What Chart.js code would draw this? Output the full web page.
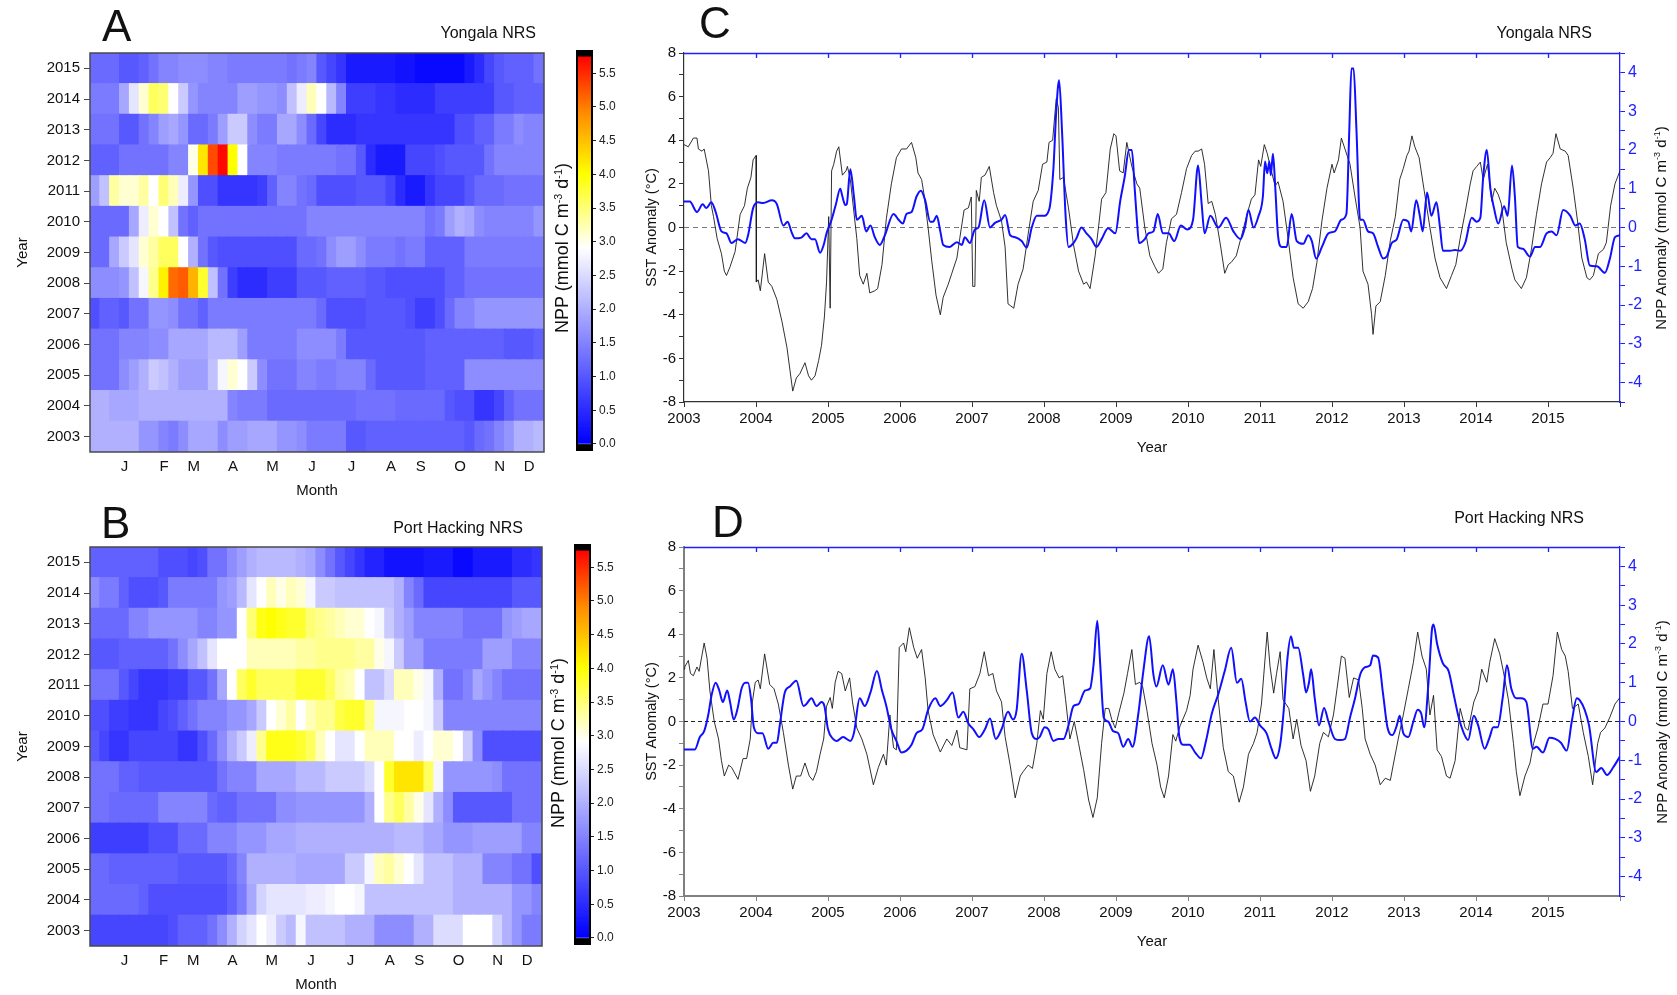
<!DOCTYPE html>
<html>
<head>
<meta charset="utf-8">
<script src="https://cdn.jsdelivr.net/npm/chart.js@4.4.0/dist/chart.umd.min.js"></script>
<style>
  body { margin: 0; background: #fff; width: 1677px; height: 995px; position: relative; overflow: hidden;
         font-family: "Liberation Sans", Arial, Helvetica, sans-serif; color: #111; }
  canvas { position: absolute; }
  .lbl { position: absolute; white-space: nowrap; line-height: 1; }
  .letter { font-size: 44px; }
  .site { font-size: 16px; }
  .rot { transform: translate(-50%, -50%) rotate(-90deg); }
  sup { font-size: 0.6em; vertical-align: 0.6em; line-height: 0; }
</style>
</head>
<body>
<canvas id="heatA" width="560" height="500" style="left:0;top:0"></canvas>
<canvas id="barA" width="70" height="500" style="left:560px;top:0"></canvas>
<canvas id="heatB" width="560" height="500" style="left:0;top:494px"></canvas>
<canvas id="barB" width="70" height="500" style="left:558px;top:494px"></canvas>
<canvas id="lineC" width="1047" height="470" style="left:630px;top:0"></canvas>
<canvas id="lineD" width="1047" height="470" style="left:630px;top:494px"></canvas>

<div class="lbl letter" style="left:102px;top:4px">A</div>
<div class="lbl letter" style="left:101px;top:501px">B</div>
<div class="lbl letter" style="left:699px;top:1px">C</div>
<div class="lbl letter" style="left:712px;top:500px">D</div>

<div class="lbl site" style="right:1141px;top:25px">Yongala NRS</div>
<div class="lbl site" style="right:1154px;top:520px">Port Hacking NRS</div>
<div class="lbl site" style="right:85px;top:25px">Yongala NRS</div>
<div class="lbl site" style="right:93px;top:510px">Port Hacking NRS</div>

<div class="lbl rot" style="left:562px;top:248px;font-size:18px">NPP (mmol C m<sup>-3</sup> d<sup>-1</sup>)</div>
<div class="lbl rot" style="left:558px;top:743px;font-size:18px">NPP (mmol C m<sup>-3</sup> d<sup>-1</sup>)</div>
<div class="lbl rot" style="left:1660px;top:228px;font-size:15px">NPP Anomaly (mmol C m<sup>-3</sup> d<sup>-1</sup>)</div>
<div class="lbl rot" style="left:1661px;top:722px;font-size:15px">NPP Anomaly (mmol C m<sup>-3</sup> d<sup>-1</sup>)</div>

<script>
// ---- heatmap axes ----
const years = [2003, 2004, 2005, 2006, 2007, 2008, 2009, 2010, 2011, 2012, 2013, 2014, 2015];
const columnCount = 46; // 8-day composites per year
const monthTickCols = [3, 7, 10, 14, 18, 22, 26, 30, 33, 37, 41, 44];
const monthLetters = ['J', 'F', 'M', 'A', 'M', 'J', 'J', 'A', 'S', 'O', 'N', 'D'];

// ---- NPP climatology (mmol C m-3 d-1), one row per year, 46 columns ----
const yongalaNpp = [
  /*2003*/ [2.0,2.0,2.0,2.0,2.0,1.7,1.7,1.5,1.4,1.6, 1.9,1.9,1.9,1.6,1.8,1.8,1.9,1.9,1.9,1.7, 1.7,1.6,1.4,1.4,1.4,1.4,1.0,1.0,1.1,1.1, 1.1,1.1,1.1,1.1,1.1,1.1,1.1,1.1,1.0,1.2, 1.3,1.5,1.7,2.0,2.0,2.1],
  /*2004*/ [2.0,2.0,1.9,1.9,1.9,2.0,2.0,2.0,2.0,2.0, 2.0,2.0,2.0,2.0,1.5,1.4,1.4,1.4,1.2,1.2, 1.2,1.2,1.2,1.2,1.2,1.2,1.2,1.3,1.3,1.3, 1.3,1.2,1.2,1.2,1.2,1.2,1.0,0.9,0.9,0.6, 0.6,0.8,1.1,1.3,1.3,1.3],
  /*2005*/ [1.3,1.3,1.3,1.6,1.8,2.0,2.3,2.2,2.0,1.8, 1.8,1.8,2.2,2.8,3.1,2.9,2.3,1.6,1.3,1.3, 1.3,1.5,1.5,1.4,1.4,1.5,1.5,1.5,1.2,1.0, 1.0,1.0,1.0,1.0,1.1,1.1,1.1,1.1,1.6,1.6, 1.6,1.6,1.6,1.6,1.6,1.6],
  /*2006*/ [1.3,1.3,1.3,1.5,1.5,1.5,1.6,1.6,1.9,1.9, 1.9,1.9,2.1,2.1,2.1,1.8,1.4,1.4,1.4,1.4, 1.4,1.6,1.6,1.6,1.6,1.4,1.0,1.0,1.0,1.0, 1.0,1.0,1.0,1.0,1.1,1.1,1.1,1.1,1.1,1.1, 1.1,1.1,1.0,1.0,1.0,1.1],
  /*2007*/ [0.9,1.1,1.1,1.0,1.3,1.3,1.7,1.7,1.6,1.3, 1.3,1.1,1.4,1.4,1.4,1.4,1.4,1.4,1.4,1.4, 1.4,1.4,1.4,1.2,0.9,0.9,0.9,0.9,1.0,1.0, 1.0,1.0,0.9,0.7,0.7,0.9,1.2,1.5,1.5,1.7, 1.7,1.7,1.7,1.7,1.7,1.7],
  /*2008*/ [1.6,1.6,1.6,1.7,2.2,2.8,3.4,4.1,5.1,5.2, 4.6,3.8,2.2,1.3,0.7,0.5,0.5,0.5,0.7,0.7, 0.7,1.0,1.0,1.0,1.1,1.1,1.1,1.1,1.0,1.0, 0.9,0.9,0.9,0.9,0.9,0.9,1.1,1.1,1.3,1.3, 1.3,1.3,1.3,1.3,1.3,1.3],
  /*2009*/ [1.2,1.2,1.9,2.3,2.6,3.1,3.3,3.6,3.6,2.9, 2.0,1.3,1.0,0.9,0.9,0.9,0.9,0.9,0.9,0.9, 0.9,1.2,1.2,1.3,1.6,1.8,1.8,1.6,1.4,1.4, 1.4,1.3,1.4,1.4,1.1,1.1,1.1,1.1,1.4,1.4, 1.4,1.4,1.4,1.4,1.4,1.4],
  /*2010*/ [1.2,1.2,1.2,1.2,1.9,2.7,3.1,2.9,2.2,1.3, 1.1,1.3,1.3,1.3,1.3,1.3,1.3,1.3,1.3,1.3, 1.3,1.3,1.5,1.5,1.5,1.5,1.5,1.5,1.5,1.5, 1.5,1.5,1.5,1.5,1.3,1.4,1.8,2.0,1.9,1.6, 1.5,1.5,1.5,1.5,1.5,1.7],
  /*2011*/ [1.8,2.2,3.3,3.1,3.1,3.3,2.9,3.5,3.2,2.7, 1.7,0.9,0.9,0.6,0.6,0.6,0.6,0.7,1.1,1.5, 1.5,1.3,1.2,0.9,0.9,0.9,0.9,1.0,1.0,1.0, 0.8,0.5,0.3,0.3,0.6,0.8,0.8,0.8,1.0,1.2, 1.2,1.2,1.3,1.3,1.3,1.3],
  /*2012*/ [1.1,1.1,1.1,1.3,1.3,1.3,1.3,1.3,1.5,1.5, 3.0,4.2,5.3,5.7,4.0,2.9,1.5,1.5,1.5,1.4, 1.4,1.4,1.4,1.4,1.4,1.3,1.3,1.0,0.5,0.3, 0.3,0.3,0.8,0.8,0.8,0.9,1.0,1.0,1.0,1.0, 1.3,1.5,1.5,1.5,1.5,1.5],
  /*2013*/ [1.3,1.3,1.3,1.0,1.0,1.3,1.5,1.8,1.9,1.7, 1.2,1.2,1.4,1.8,2.3,2.3,1.6,1.4,1.4,1.9, 1.9,1.6,1.2,0.8,0.5,0.5,0.5,0.6,0.6,0.6, 0.6,0.6,0.6,0.6,0.6,0.6,0.6,0.9,0.9,1.1, 1.1,1.4,1.4,1.6,1.5,1.5],
  /*2014*/ [1.4,1.4,1.4,1.9,2.6,3.1,3.6,3.5,2.9,2.3, 1.7,1.5,1.5,1.5,1.5,1.8,1.8,1.7,1.7,1.6, 2.2,2.7,3.2,2.9,2.1,1.5,0.7,0.7,0.7,0.6, 0.6,0.5,0.5,0.5,0.5,0.7,0.7,0.7,0.7,0.7, 0.7,1.0,1.0,1.1,1.1,1.1],
  /*2015*/ [1.2,1.2,1.2,1.0,1.0,1.1,1.3,1.5,1.5,1.6, 1.6,1.6,1.5,1.5,1.4,1.4,1.4,1.4,1.4,1.4, 1.3,1.4,1.5,1.0,0.8,0.6,0.3,0.3,0.3,0.3, 0.3,0.2,0.2,0.1,0.1,0.1,0.1,0.1,0.3,0.5, 0.8,1.0,1.1,1.1,1.1,1.3]
];
const portHackingNpp = [
  /*2003*/ [0.8,0.8,0.8,0.8,0.8,0.8,0.8,0.8,0.9,1.1, 1.1,1.1,1.3,1.6,2.0,2.4,2.6,2.9,2.7,2.3, 2.1,2.8,2.2,2.2,2.2,2.2,2.0,2.0,2.0,1.6, 1.6,1.6,1.6,2.0,2.0,2.5,2.5,2.5,2.9,2.9, 2.9,2.4,2.0,1.7,1.4,1.4],
  /*2004*/ [1.2,1.2,1.2,1.2,1.2,1.1,0.9,0.9,0.9,0.9, 0.9,0.9,0.9,0.9,1.1,1.4,1.9,2.4,2.6,2.6, 2.6,2.6,2.7,2.7,2.8,2.9,2.9,2.8,2.2,2.2, 2.2,2.2,2.2,2.2,2.2,2.2,2.2,2.0,2.0,2.0, 2.0,2.0,2.0,1.7,1.7,1.5],
  /*2005*/ [1.2,1.2,1.1,1.1,1.1,1.1,1.1,1.1,1.1,1.0, 1.0,1.0,1.0,1.0,1.2,1.5,2.0,2.0,2.0,2.0, 2.0,1.9,1.9,1.9,1.9,1.9,2.3,2.3,2.8,3.2, 3.3,3.1,2.9,2.6,2.2,2.2,2.2,2.0,2.0,2.0, 1.5,1.5,1.5,1.3,1.3,0.9],
  /*2006*/ [0.7,0.7,0.7,0.7,0.7,0.7,0.9,0.9,0.9,1.2, 1.2,1.2,1.5,1.5,1.5,1.7,1.7,1.7,1.9,1.9, 1.9,2.0,2.0,2.0,2.0,2.0,2.0,2.0,2.0,2.0, 2.0,2.1,2.1,2.1,1.9,1.9,1.7,1.7,1.7,1.8, 1.8,1.8,1.8,1.8,1.5,1.5],
  /*2007*/ [1.3,1.3,1.2,1.2,1.2,1.2,1.2,1.5,1.5,1.5, 1.5,1.5,1.2,1.1,1.1,1.3,1.3,1.3,1.3,1.6, 1.6,1.7,1.7,1.7,1.7,1.7,1.7,1.7,2.0,2.9, 3.4,3.6,3.3,3.0,2.6,2.0,1.6,1.0,1.0,1.0, 1.0,1.0,1.0,1.3,1.3,1.3],
  /*2008*/ [1.3,1.3,1.3,1.1,1.1,1.0,1.0,1.0,1.0,1.0, 1.0,1.0,1.0,1.3,1.5,1.5,1.5,1.9,1.9,1.9, 1.9,2.1,2.1,2.1,2.3,2.3,2.3,2.3,2.5,2.9, 3.8,4.2,4.2,4.2,3.6,2.8,1.7,1.7,1.7,1.7, 1.7,1.6,1.3,1.3,1.3,1.3],
  /*2009*/ [1.0,0.8,0.6,0.6,0.8,0.8,0.8,0.8,0.8,0.6, 0.6,0.9,1.2,1.6,2.0,2.3,2.7,3.4,3.9,3.9, 3.9,3.8,3.6,3.2,2.9,2.6,2.6,2.9,3.2,3.2, 3.2,2.9,2.9,2.7,2.9,3.1,3.1,2.9,2.3,1.6, 0.9,0.9,0.9,0.9,0.9,0.9],
  /*2010*/ [0.9,0.9,0.7,0.7,0.6,0.6,0.6,0.8,0.9,1.1, 1.3,1.5,1.5,1.5,1.7,1.7,1.9,2.3,2.9,3.1, 3.3,2.9,3.2,3.4,3.4,3.7,3.8,3.8,3.4,2.8, 2.8,2.8,2.9,2.9,2.8,2.3,1.5,1.5,1.5,1.5, 1.5,1.5,1.5,1.5,1.5,1.5],
  /*2011*/ [1.3,1.3,1.3,1.0,0.8,0.6,0.6,0.6,0.7,0.7, 1.0,1.0,1.3,1.9,2.9,3.6,3.8,3.6,3.6,3.6, 3.6,3.8,3.8,3.8,3.6,3.3,3.2,2.9,2.2,2.2, 2.5,3.2,3.2,3.0,2.8,2.0,1.3,1.3,1.5,1.9, 1.7,1.5,1.3,1.3,1.3,1.3],
  /*2012*/ [1.0,1.0,1.0,1.1,1.1,1.1,1.1,1.1,1.3,1.6, 1.9,2.2,2.6,2.9,2.9,2.9,3.2,3.2,3.2,3.2, 3.2,3.3,3.3,3.4,3.4,3.4,3.4,3.3,3.3,3.0, 2.8,2.3,1.8,1.8,1.4,1.4,1.4,1.4,1.4,1.4, 1.8,1.8,1.8,1.5,1.5,1.5],
  /*2013*/ [1.2,1.2,1.2,1.2,1.5,1.5,1.7,1.7,1.7,1.7, 1.7,1.5,1.5,1.7,1.7,2.9,3.5,3.9,4.0,3.9, 3.8,3.8,3.5,3.4,3.3,3.2,3.1,3.1,2.9,2.8, 2.3,2.0,1.8,1.5,1.5,1.5,1.5,1.5,1.3,1.3, 1.3,1.3,1.7,1.8,1.9,1.9],
  /*2014*/ [1.6,1.4,1.4,1.1,0.9,0.9,0.9,1.0,1.4,1.4, 1.4,1.4,1.4,1.7,1.8,2.1,2.6,2.9,3.2,3.0, 3.2,3.1,2.8,2.3,2.3,2.2,2.2,2.2,2.2,2.2, 2.2,2.0,1.5,1.2,0.8,0.8,0.8,0.8,0.8,0.8, 0.8,0.8,0.8,1.0,1.0,1.0],
  /*2015*/ [1.1,1.1,1.1,1.1,1.1,1.1,1.1,0.9,0.9,0.9, 0.8,0.9,1.3,1.3,1.6,1.8,2.0,2.1,2.1,2.1, 2.1,2.0,1.9,1.6,1.3,1.0,0.8,0.6,0.4,0.4, 0.2,0.2,0.2,0.2,0.3,0.3,0.3,0.1,0.1,0.3, 0.3,0.3,0.3,0.5,0.5,0.6]
];

// ---- anomaly time series: [decimal year, value] ----
const yongalaSst = [
  [2003.00,3.8],[2003.06,3.7],[2003.13,4.1],[2003.18,4.1],[2003.20,3.6],[2003.25,3.5],[2003.28,3.6],[2003.34,2.6],[2003.38,1.0],[2003.41,0.5],
  [2003.46,-0.5],[2003.52,-1.2],[2003.56,-2.0],[2003.59,-2.2],[2003.64,-1.8],[2003.71,-1.1],[2003.78,0.6],[2003.84,1.0],[2003.88,1.8],[2003.93,2.3],
  [2003.96,3.1],[2004.00,3.3],[2004.005,-2.5],[2004.03,-2.4],[2004.06,-2.9],[2004.12,-1.2],[2004.17,-2.5],[2004.22,-2.7],[2004.29,-3.3],[2004.36,-4.3],
  [2004.43,-5.5],[2004.51,-7.5],[2004.56,-6.9],[2004.61,-6.7],[2004.68,-6.2],[2004.73,-6.8],[2004.77,-7.0],[2004.82,-6.8],[2004.87,-6.1],[2004.91,-5.4],
  [2004.95,-4.1],[2004.98,-2.5],[2005.01,0.5],[2005.03,-3.7],[2005.05,2.6],[2005.08,2.9],[2005.12,3.5],[2005.15,3.7],[2005.20,2.4],[2005.25,2.6],
  [2005.27,2.8],[2005.31,2.2],[2005.35,1.0],[2005.40,-0.5],[2005.44,-2.2],[2005.49,-2.6],[2005.54,-2.1],[2005.58,-3.0],[2005.65,-2.9],[2005.69,-2.8],
  [2005.75,-1.7],[2005.81,0.4],[2005.88,2.0],[2005.95,3.2],[2006.02,3.6],[2006.09,3.6],[2006.16,3.9],[2006.22,3.2],[2006.25,2.5],[2006.30,2.2],
  [2006.33,1.6],[2006.39,0.0],[2006.44,-1.5],[2006.50,-3.1],[2006.56,-4.0],[2006.60,-3.2],[2006.67,-2.6],[2006.72,-2.1],[2006.79,-1.4],[2006.83,-0.5],
  [2006.89,0.8],[2006.95,0.9],[2006.99,1.4],[2007.01,-2.7],[2007.04,-2.7],[2007.06,1.7],[2007.10,1.2],[2007.13,2.3],[2007.18,2.4],[2007.24,2.8],
  [2007.30,1.6],[2007.34,1.0],[2007.41,0.3],[2007.46,-0.9],[2007.50,-3.5],[2007.54,-3.6],[2007.58,-3.7],[2007.64,-2.6],[2007.71,-1.9],[2007.78,-0.3],
  [2007.85,1.2],[2007.92,1.7],[2007.98,2.9],[2008.04,3.0],[2008.07,3.9],[2008.12,4.0],[2008.17,5.9],[2008.20,5.5],[2008.22,2.2],[2008.27,2.3],
  [2008.34,0.9],[2008.41,-0.8],[2008.48,-2.0],[2008.55,-2.6],[2008.59,-2.5],[2008.64,-2.8],[2008.71,-1.3],[2008.76,0.1],[2008.80,1.3],[2008.86,1.6],
  [2008.92,3.6],[2008.97,4.3],[2009.00,4.2],[2009.05,2.6],[2009.10,2.5],[2009.15,3.9],[2009.22,2.8],[2009.29,2.0],[2009.33,1.8],[2009.40,0.0],
  [2009.47,-1.3],[2009.54,-1.8],[2009.59,-2.1],[2009.65,-1.9],[2009.70,-0.7],[2009.77,0.4],[2009.84,0.6],[2009.91,1.6],[2009.98,2.7],[2010.05,3.3],
  [2010.10,3.5],[2010.14,3.5],[2010.19,3.6],[2010.23,2.9],[2010.28,1.1],[2010.33,1.2],[2010.38,0.6],[2010.45,-0.8],[2010.51,-2.1],[2010.56,-1.7],
  [2010.60,-1.6],[2010.67,-1.3],[2010.75,-0.3],[2010.82,0.6],[2010.88,1.3],[2010.93,1.5],[2010.98,3.1],[2011.01,2.8],[2011.06,3.8],[2011.10,3.4],
  [2011.15,2.7],[2011.21,1.9],[2011.25,2.1],[2011.32,1.2],[2011.39,-0.5],[2011.46,-2.3],[2011.53,-3.5],[2011.60,-3.7],[2011.67,-3.4],[2011.73,-2.8],
  [2011.79,-1.6],[2011.86,0.3],[2011.93,1.8],[2012.00,2.9],[2012.03,2.5],[2012.09,3.1],[2012.13,4.1],[2012.18,3.6],[2012.25,2.9],[2012.32,1.4],
  [2012.39,0.0],[2012.43,-2.0],[2012.50,-2.6],[2012.55,-4.0],[2012.57,-4.9],[2012.61,-3.6],[2012.67,-3.4],[2012.74,-2.2],[2012.81,-0.6],[2012.88,0.5],
  [2012.94,2.2],[2012.99,2.7],[2013.04,3.3],[2013.07,3.5],[2013.11,4.2],[2013.15,3.7],[2013.21,3.2],[2013.28,1.7],[2013.36,0.0],[2013.43,-1.4],
  [2013.50,-2.3],[2013.59,-2.8],[2013.66,-2.2],[2013.72,-1.7],[2013.78,-0.5],[2013.85,0.7],[2013.92,2.0],[2013.96,2.6],[2014.01,2.8],[2014.06,3.0],
  [2014.10,2.2],[2014.16,2.9],[2014.22,1.2],[2014.26,1.8],[2014.31,1.5],[2014.35,1.1],[2014.42,-0.7],[2014.50,-1.9],[2014.54,-2.4],[2014.63,-2.8],
  [2014.70,-2.3],[2014.77,-1.0],[2014.84,0.6],[2014.91,2.0],[2014.98,3.0],[2015.03,3.2],[2015.07,3.4],[2015.11,4.3],[2015.17,3.6],[2015.24,3.5],
  [2015.28,3.3],[2015.35,1.8],[2015.41,0.3],[2015.47,-1.4],[2015.54,-2.3],[2015.58,-2.4],[2015.63,-2.2],[2015.70,-1.2],[2015.77,-1.0],[2015.81,-0.7],
  [2015.87,1.0],[2015.93,2.0],[2016.00,2.6]
];
const yongalaNppAnom = [
  [2003.00,0.67],[2003.08,0.67],[2003.18,0.40],[2003.26,0.60],[2003.31,0.50],[2003.38,0.65],[2003.44,0.40],[2003.52,-0.10],[2003.59,-0.15],[2003.66,-0.40],
  [2003.75,-0.30],[2003.85,-0.40],[2003.89,-0.20],[2003.96,0.50],[2004.03,0.65],[2004.10,0.63],[2004.22,0.70],[2004.29,0.60],[2004.38,0.05],[2004.44,0.15],
  [2004.49,-0.10],[2004.54,-0.28],[2004.63,-0.26],[2004.70,-0.15],[2004.77,-0.30],[2004.82,-0.30],[2004.89,-0.65],[2004.94,-0.45],[2004.98,-0.15],[2005.05,0.20],
  [2005.11,0.60],[2005.17,1.00],[2005.20,0.80],[2005.24,0.58],[2005.26,0.60],[2005.31,1.50],[2005.36,0.80],[2005.40,0.20],[2005.47,0.30],[2005.53,-0.10],
  [2005.59,0.05],[2005.65,-0.25],[2005.72,-0.45],[2005.79,-0.20],[2005.91,0.35],[2005.98,0.20],[2006.04,0.10],[2006.09,0.35],[2006.16,0.40],[2006.23,0.80],
  [2006.29,0.95],[2006.35,0.70],[2006.42,0.15],[2006.46,0.15],[2006.51,0.30],[2006.56,-0.10],[2006.60,-0.45],[2006.69,-0.50],[2006.79,-0.38],[2006.86,-0.45],
  [2006.90,-0.25],[2006.97,-0.40],[2007.04,-0.05],[2007.09,0.00],[2007.17,0.70],[2007.25,0.00],[2007.32,0.12],[2007.41,0.20],[2007.46,0.32],[2007.53,-0.20],
  [2007.60,-0.25],[2007.69,-0.35],[2007.76,-0.52],[2007.83,0.00],[2007.90,0.30],[2007.99,0.30],[2008.07,0.45],[2008.13,1.50],[2008.17,3.00],[2008.21,3.80],
  [2008.25,2.50],[2008.30,0.30],[2008.34,-0.50],[2008.41,-0.40],[2008.45,-0.28],[2008.52,0.00],[2008.59,-0.15],[2008.66,-0.30],[2008.73,-0.50],[2008.80,-0.30],
  [2008.89,-0.02],[2008.99,-0.15],[2009.06,0.70],[2009.12,1.30],[2009.18,2.00],[2009.22,2.00],[2009.26,1.00],[2009.29,0.20],[2009.32,-0.40],[2009.40,-0.30],
  [2009.45,-0.15],[2009.52,-0.10],[2009.58,0.35],[2009.65,-0.15],[2009.73,-0.15],[2009.81,-0.35],[2009.90,0.05],[2009.99,-0.05],[2010.07,0.20],[2010.14,1.60],
  [2010.19,0.60],[2010.23,-0.15],[2010.31,0.30],[2010.42,0.00],[2010.53,0.25],[2010.63,-0.10],[2010.73,-0.30],[2010.79,0.00],[2010.84,0.45],[2010.91,0.00],
  [2010.98,0.30],[2011.04,0.80],[2011.07,1.70],[2011.10,1.40],[2011.13,1.70],[2011.15,1.35],[2011.18,1.90],[2011.21,1.10],[2011.25,-0.20],[2011.30,-0.50],
  [2011.37,-0.50],[2011.44,0.35],[2011.51,-0.35],[2011.60,-0.42],[2011.67,-0.20],[2011.72,-0.35],[2011.78,-0.80],[2011.86,-0.50],[2011.95,-0.15],[2012.04,-0.10],
  [2012.13,0.20],[2012.20,0.35],[2012.24,2.50],[2012.27,4.10],[2012.30,4.10],[2012.34,2.50],[2012.39,0.20],[2012.43,0.20],[2012.50,-0.10],[2012.57,-0.15],
  [2012.64,-0.50],[2012.71,-0.80],[2012.76,-0.75],[2012.83,-0.40],[2012.90,-0.30],[2012.99,0.20],[2013.06,0.15],[2013.10,-0.10],[2013.17,0.70],[2013.22,0.30],
  [2013.26,-0.10],[2013.32,0.90],[2013.38,0.30],[2013.45,0.65],[2013.50,0.00],[2013.54,-0.60],[2013.64,-0.60],[2013.71,-0.58],[2013.78,-0.60],[2013.85,-0.40],
  [2013.94,0.25],[2014.01,0.15],[2014.06,0.25],[2014.10,1.30],[2014.15,2.00],[2014.20,1.00],[2014.25,0.50],[2014.31,0.10],[2014.39,0.55],[2014.44,0.30],
  [2014.50,1.60],[2014.54,0.80],[2014.58,-0.50],[2014.65,-0.55],[2014.75,-0.75],[2014.82,-0.50],[2014.89,-0.50],[2014.98,-0.15],[2015.05,-0.10],[2015.12,-0.20],
  [2015.21,0.45],[2015.31,0.30],[2015.38,0.05],[2015.44,0.10],[2015.51,-0.30],[2015.58,-0.98],[2015.68,-1.00],[2015.79,-1.17],[2015.86,-0.80],[2015.93,-0.25],
  [2016.00,-0.20]
];
const portHackingSst = [
  [2003.00,2.4],[2003.01,2.5],[2003.06,2.8],[2003.09,2.2],[2003.13,2.1],[2003.18,2.5],[2003.21,2.3],[2003.28,3.6],[2003.32,2.9],[2003.36,1.4],
  [2003.42,0.0],[2003.48,-0.8],[2003.52,-1.8],[2003.56,-2.5],[2003.62,-2.0],[2003.66,-2.1],[2003.75,-2.65],[2003.82,-1.7],[2003.87,-1.7],[2003.92,-0.8],
  [2003.95,0.9],[2003.99,1.8],[2004.03,1.9],[2004.06,1.5],[2004.12,3.1],[2004.19,1.7],[2004.25,1.5],[2004.31,0.8],[2004.38,-0.5],[2004.45,-2.0],
  [2004.51,-3.1],[2004.56,-2.5],[2004.62,-2.5],[2004.68,-1.9],[2004.74,-2.5],[2004.79,-2.7],[2004.84,-2.3],[2004.89,-1.5],[2004.94,-0.8],[2004.98,0.7],
  [2005.03,1.1],[2005.06,0.6],[2005.10,1.8],[2005.14,2.3],[2005.19,2.2],[2005.24,1.4],[2005.30,2.0],[2005.34,0.9],[2005.40,-0.3],[2005.47,-0.8],
  [2005.54,-1.5],[2005.63,-2.9],[2005.70,-2.1],[2005.77,-1.5],[2005.81,-2.0],[2005.86,0.3],[2005.91,-1.2],[2005.95,-1.3],[2005.99,3.4],[2006.05,3.6],
  [2006.08,3.2],[2006.13,4.3],[2006.19,3.4],[2006.24,2.9],[2006.30,3.3],[2006.35,2.0],[2006.39,0.5],[2006.46,-0.6],[2006.56,-1.4],[2006.65,-0.8],
  [2006.72,-1.1],[2006.79,-0.4],[2006.83,-1.2],[2006.93,-1.3],[2006.97,1.5],[2007.04,1.6],[2007.11,2.2],[2007.17,3.2],[2007.23,2.1],[2007.29,2.2],
  [2007.34,1.4],[2007.41,0.9],[2007.46,-0.7],[2007.53,-2.0],[2007.60,-3.5],[2007.67,-2.5],[2007.71,-2.3],[2007.78,-2.0],[2007.84,-2.15],[2007.90,-1.0],
  [2007.95,0.5],[2007.99,0.1],[2008.04,2.2],[2008.10,3.2],[2008.15,2.4],[2008.21,2.0],[2008.26,2.1],[2008.30,1.0],[2008.36,-0.8],[2008.42,0.0],
  [2008.48,-1.0],[2008.55,-2.2],[2008.62,-3.6],[2008.68,-4.4],[2008.74,-3.5],[2008.80,-1.0],[2008.85,0.6],[2008.90,0.6],[2008.94,0.1],[2008.99,-0.3],
  [2009.04,0.4],[2009.11,1.3],[2009.16,2.2],[2009.22,3.3],[2009.27,1.7],[2009.33,1.8],[2009.37,1.6],[2009.43,0.5],[2009.50,-1.0],[2009.57,-2.0],
  [2009.62,-3.0],[2009.67,-3.5],[2009.73,-2.5],[2009.79,-0.6],[2009.83,-0.9],[2009.89,-0.2],[2009.98,0.5],[2010.03,1.2],[2010.07,2.4],[2010.14,3.5],
  [2010.21,2.7],[2010.26,2.0],[2010.31,1.5],[2010.36,3.3],[2010.42,1.0],[2010.49,-1.2],[2010.56,-2.3],[2010.63,-2.5],[2010.71,-3.7],[2010.77,-3.0],
  [2010.84,-1.5],[2010.91,-1.0],[2010.96,-0.5],[2011.02,0.8],[2011.10,4.1],[2011.14,2.5],[2011.19,1.3],[2011.23,2.2],[2011.28,3.2],[2011.32,1.0],
  [2011.40,0.6],[2011.46,-0.8],[2011.51,0.1],[2011.57,-1.1],[2011.64,-1.8],[2011.70,-3.2],[2011.76,-2.5],[2011.83,-1.0],[2011.88,-0.5],[2011.95,-0.7],
  [2012.02,0.3],[2012.07,1.5],[2012.13,3.0],[2012.18,2.9],[2012.24,1.1],[2012.30,2.0],[2012.37,1.9],[2012.42,0.6],[2012.46,-0.8],[2012.53,-1.5],
  [2012.60,-2.0],[2012.67,-2.9],[2012.74,-2.6],[2012.81,-2.7],[2012.85,-2.0],[2012.92,-0.8],[2012.99,0.3],[2013.06,1.5],[2013.13,2.7],[2013.19,4.1],
  [2013.25,3.0],[2013.31,2.4],[2013.36,0.3],[2013.41,1.2],[2013.46,-1.3],[2013.52,-1.6],[2013.59,-2.5],[2013.64,-2.6],[2013.71,-1.8],[2013.78,0.6],
  [2013.85,-0.3],[2013.89,-0.4],[2013.97,0.9],[2014.03,1.4],[2014.08,2.4],[2014.15,1.8],[2014.19,2.7],[2014.26,3.8],[2014.33,3.1],[2014.38,2.3],
  [2014.45,1.0],[2014.52,-1.0],[2014.56,-2.3],[2014.61,-3.4],[2014.68,-2.5],[2014.75,-1.9],[2014.80,-1.0],[2014.86,-0.3],[2014.93,0.8],[2015.00,0.8],
  [2015.07,2.1],[2015.13,4.1],[2015.19,3.3],[2015.24,3.0],[2015.28,2.3],[2015.34,0.6],[2015.42,0.8],[2015.49,-0.5],[2015.56,-1.6],[2015.62,-2.9],
  [2015.69,-1.0],[2015.73,-0.5],[2015.79,-0.3],[2015.86,0.2],[2015.93,0.8],[2016.00,1.1]
];
const portHackingNppAnom = [
  [2003.00,-0.72],[2003.08,-0.72],[2003.15,-0.72],[2003.22,-0.40],[2003.28,-0.25],[2003.34,0.20],[2003.38,0.65],[2003.44,1.00],[2003.49,0.80],[2003.54,0.50],
  [2003.60,0.80],[2003.64,0.50],[2003.69,0.05],[2003.74,0.30],[2003.80,0.85],[2003.85,1.00],[2003.89,1.00],[2003.93,0.60],[2003.97,-0.15],[2004.03,-0.30],
  [2004.09,-0.30],[2004.17,-0.70],[2004.24,-0.55],[2004.29,-0.55],[2004.33,-0.10],[2004.40,0.75],[2004.47,0.90],[2004.56,1.05],[2004.66,0.40],[2004.70,0.45],
  [2004.77,0.60],[2004.84,0.40],[2004.91,0.50],[2004.95,0.40],[2005.00,-0.20],[2005.07,-0.45],[2005.12,-0.50],[2005.21,-0.40],[2005.31,-0.50],[2005.36,-0.30],
  [2005.44,0.60],[2005.51,0.40],[2005.59,0.75],[2005.68,1.30],[2005.75,0.80],[2005.81,0.40],[2005.88,-0.20],[2005.95,-0.50],[2006.02,-0.80],[2006.09,-0.75],
  [2006.16,-0.60],[2006.23,-0.30],[2006.31,-0.20],[2006.39,0.30],[2006.49,0.60],[2006.56,0.40],[2006.65,0.55],[2006.73,0.75],[2006.81,0.10],[2006.88,0.25],
  [2006.95,-0.05],[2007.02,-0.20],[2007.10,-0.40],[2007.18,-0.20],[2007.25,0.08],[2007.33,-0.45],[2007.41,-0.20],[2007.50,0.25],[2007.57,0.05],[2007.62,0.30],
  [2007.69,1.75],[2007.76,0.80],[2007.83,-0.30],[2007.90,-0.45],[2007.94,-0.40],[2008.01,-0.15],[2008.06,-0.20],[2008.13,-0.50],[2008.20,-0.45],[2008.27,-0.45],
  [2008.34,-0.10],[2008.41,0.40],[2008.48,0.45],[2008.57,0.80],[2008.64,0.85],[2008.69,1.50],[2008.74,2.60],[2008.78,1.50],[2008.83,0.10],[2008.89,0.00],
  [2008.96,-0.25],[2009.03,-0.30],[2009.10,-0.65],[2009.17,-0.45],[2009.23,-0.65],[2009.31,0.20],[2009.38,1.30],[2009.46,2.20],[2009.52,1.20],[2009.56,0.90],
  [2009.65,1.45],[2009.73,0.95],[2009.79,1.35],[2009.84,0.50],[2009.88,-0.40],[2009.94,-0.60],[2010.02,-0.60],[2010.10,-0.80],[2010.18,-0.95],[2010.25,-0.50],
  [2010.33,0.20],[2010.42,0.70],[2010.51,1.30],[2010.60,1.90],[2010.68,1.00],[2010.74,1.10],[2010.80,0.50],[2010.86,0.00],[2010.93,0.10],[2011.00,-0.10],
  [2011.09,-0.30],[2011.16,-0.70],[2011.22,-0.95],[2011.28,-0.60],[2011.33,0.30],[2011.38,1.60],[2011.43,2.20],[2011.47,1.90],[2011.53,1.90],[2011.60,1.20],
  [2011.64,0.75],[2011.68,1.00],[2011.71,1.35],[2011.76,0.60],[2011.82,-0.10],[2011.89,0.35],[2011.95,0.00],[2012.04,-0.45],[2012.11,-0.48],[2012.18,-0.45],
  [2012.25,0.10],[2012.32,0.60],[2012.39,1.20],[2012.46,1.40],[2012.53,1.45],[2012.57,1.70],[2012.64,1.65],[2012.71,0.70],[2012.77,-0.15],[2012.84,-0.35],
  [2012.90,-0.10],[2012.94,0.15],[2012.99,-0.30],[2013.06,-0.40],[2013.13,0.00],[2013.19,0.30],[2013.24,0.20],[2013.28,-0.15],[2013.34,1.00],[2013.39,2.40],
  [2013.41,2.50],[2013.46,2.00],[2013.54,1.50],[2013.62,1.30],[2013.69,0.70],[2013.76,0.10],[2013.83,-0.30],[2013.89,-0.48],[2013.97,0.15],[2014.03,-0.10],
  [2014.12,-0.70],[2014.19,-0.40],[2014.24,-0.15],[2014.30,-0.15],[2014.37,0.60],[2014.43,1.45],[2014.49,0.85],[2014.56,0.60],[2014.63,0.60],[2014.70,0.50],
  [2014.79,-0.70],[2014.84,-0.65],[2014.93,-0.80],[2015.02,-0.42],[2015.10,-0.45],[2015.18,-0.55],[2015.26,-0.75],[2015.33,0.00],[2015.40,0.60],[2015.44,0.55],
  [2015.51,0.30],[2015.57,-0.10],[2015.67,-1.30],[2015.74,-1.20],[2015.82,-1.38],[2015.90,-1.20],[2016.00,-0.90]
];

// ---- colour map: blue -> white -> yellow -> red ----
const cmapStops = [[0, [0, 0, 255]], [2.9, [255, 255, 255]], [4.0, [255, 255, 0]], [4.9, [255, 140, 0]], [5.75, [255, 0, 0]]];
function nppColor(v) {
  if (v <= cmapStops[0][0]) return 'rgb(0,0,255)';
  for (let k = 1; k < cmapStops.length; k++) {
    const [v1, c1] = cmapStops[k];
    if (v <= v1) {
      const [v0, c0] = cmapStops[k - 1];
      const t = (v - v0) / (v1 - v0);
      const c = c0.map((a, j) => Math.round(a + (c1[j] - a) * t));
      return `rgb(${c[0]},${c[1]},${c[2]})`;
    }
  }
  return 'rgb(255,0,0)';
}

Chart.defaults.font.family = '"Liberation Sans", Arial, Helvetica, sans-serif';
Chart.defaults.color = '#111';
Chart.defaults.animation = false;

// box around heatmaps / colour bars, blue top axis with inward ticks on the line plots
const frame = {
  id: 'frame',
  afterDatasetsDraw(chart, args, o) {
    if (!o || !o.kind) return;
    const { ctx, chartArea: a } = chart;
    ctx.save();
    ctx.strokeStyle = o.color;
    ctx.lineWidth = o.width;
    if (o.kind === 'box') {
      ctx.strokeRect(a.left, a.top, a.right - a.left, a.bottom - a.top);
    } else {
      const x = chart.scales.x;
      ctx.beginPath();
      ctx.moveTo(a.left, a.top + 0.5);
      ctx.lineTo(a.right, a.top + 0.5);
      x.ticks.forEach(t => {
        if (t.value <= x.min || t.value >= x.max) return;
        const px = Math.round(x.getPixelForValue(t.value)) + 0.5;
        ctx.moveTo(px, a.top);
        ctx.lineTo(px, a.top + 5);
      });
      ctx.stroke();
    }
    ctx.restore();
  }
};

const columnLabels = Array.from({ length: columnCount }, (_, j) => {
  const k = monthTickCols.indexOf(j);
  return k < 0 ? '' : monthLetters[k];
});

function heatmap(id, rows, padRight) {
  const datasets = rows.map((row, i) => ({
    data: row.map(() => [i, i + 1]),
    backgroundColor: row.map(nppColor),
    grouped: false, barPercentage: 1, categoryPercentage: 1, borderWidth: 0, inflateAmount: 0.6
  }));
  return new Chart(document.getElementById(id), {
    type: 'bar',
    data: { labels: columnLabels, datasets },
    options: {
      responsive: false, events: [],
      layout: { padding: { top: 53, right: padRight } },
      plugins: { legend: { display: false }, tooltip: { enabled: false }, frame: { kind: 'box', color: '#4a4a4a', width: 1.5 } },
      scales: {
        x: {
          grid: { display: false, drawTicks: false }, border: { display: false },
          ticks: { autoSkip: false, maxRotation: 0, padding: 6, font: { size: 15 } },
          title: { display: true, text: 'Month', font: { size: 15 }, padding: { top: 0, bottom: 0 } },
          afterFit: s => { s.height = 48; }
        },
        y: {
          min: 0, max: years.length,
          afterBuildTicks: s => { s.ticks = years.map((_, i) => ({ value: i + 0.5 })); },
          ticks: { autoSkip: false, padding: 4, font: { size: 15 }, callback: (v, i) => String(years[i]) },
          grid: { drawOnChartArea: false, tickLength: 6, color: '#4a4a4a' }, border: { display: false },
          title: { display: true, text: 'Year', font: { size: 15 }, padding: { top: 14, bottom: 0 } },
          afterFit: s => { s.width = 90; }
        }
      }
    },
    plugins: [frame]
  });
}

function colorBar(id) {
  const lo = -0.09, top = 5.74, hi = 5.83;
  const datasets = [];
  for (let v = 0; v < top; v += 0.02) {
    datasets.push({ data: [[v, Math.min(v + 0.025, top)]], backgroundColor: nppColor(v + 0.01) });
  }
  datasets.push({ data: [[lo, 0]], backgroundColor: '#000' }, { data: [[top, hi]], backgroundColor: '#000' });
  datasets.forEach(d => Object.assign(d, { grouped: false, barPercentage: 1, categoryPercentage: 1, borderWidth: 0 }));
  return new Chart(document.getElementById(id), {
    type: 'bar',
    data: { labels: [''], datasets },
    options: {
      responsive: false, events: [],
      layout: { padding: { top: 51, bottom: 50, left: 17 } },
      plugins: { legend: { display: false }, tooltip: { enabled: false }, frame: { kind: 'box', color: '#000', width: 2 } },
      scales: {
        x: { display: false },
        y: {
          position: 'right', min: lo, max: hi,
          afterBuildTicks: s => { s.ticks = [0, 0.5, 1, 1.5, 2, 2.5, 3, 3.5, 4, 4.5, 5, 5.5].map(v => ({ value: v })); },
          ticks: { autoSkip: false, padding: 3, color: '#222', font: { size: 12 }, callback: v => v.toFixed(1) },
          grid: { drawOnChartArea: false, tickLength: 4, color: '#222' }, border: { display: false },
          afterFit: s => { s.width = 38; }
        }
      }
    },
    plugins: [frame]
  });
}

function anomalyChart(id, sst, npp, look) {
  const blue = '#1f1fff';
  return new Chart(document.getElementById(id), {
    type: 'line',
    data: {
      datasets: [
        { data: npp.map(([x, y]) => ({ x, y })), yAxisID: 'y1', borderColor: '#1010ff', borderWidth: 2,
          pointRadius: 0, cubicInterpolationMode: 'monotone' },
        { data: sst.map(([x, y]) => ({ x, y })), yAxisID: 'y', borderColor: '#1a1a1a', borderWidth: 0.9, pointRadius: 0 },
        { data: [{ x: 2003, y: 0 }, { x: 2016, y: 0 }], yAxisID: 'y', borderColor: look.zero, borderWidth: 1.1,
          borderDash: look.dash, pointRadius: 0 }
      ]
    },
    options: {
      responsive: false, events: [],
      layout: { padding: { top: 53 } },
      plugins: { legend: { display: false }, tooltip: { enabled: false }, frame: { kind: 'topaxis', color: blue, width: 1.3 } },
      scales: {
        x: {
          type: 'linear', min: 2003, max: 2016,
          ticks: { stepSize: 1, autoSkip: false, padding: 3, font: { size: 15 }, callback: v => (v < 2016 ? String(v) : '') },
          grid: { drawOnChartArea: false, tickLength: 5, color: look.axis }, border: { color: look.axis, width: look.axisWidth },
          title: { display: true, text: 'Year', font: { size: 15 }, padding: { top: 0, bottom: 13 } },
          afterFit: s => { s.height = 68; }
        },
        y: {
          position: 'left', min: -8, max: 8,
          ticks: { stepSize: 1, autoSkip: false, padding: 3, font: { size: 15 }, callback: v => (v % 2 === 0 ? String(v) : '') },
          grid: { drawOnChartArea: false, tickLength: 5, color: look.axis }, border: { color: look.axis, width: look.axisWidth },
          title: { display: true, text: 'SST Anomaly (°C)', font: { size: 14.5 }, padding: { top: 13, bottom: 0 } },
          afterFit: s => { s.width = 54; }
        },
        y1: {
          position: 'right', min: -4.5, max: 4.5,
          ticks: { stepSize: 0.5, autoSkip: false, padding: 3, color: blue, font: { size: 16 },
                   callback: v => (Math.abs(v - Math.round(v)) < 1e-6 ? String(Math.round(v)) : '') },
          grid: { drawOnChartArea: false, tickLength: 5, color: blue }, border: { color: blue, width: 1.3 },
          afterFit: s => { s.width = 57; }
        }
      }
    },
    plugins: [frame]
  });
}

heatmap('heatA', yongalaNpp, 16);
heatmap('heatB', portHackingNpp, 18);
colorBar('barA');
colorBar('barB');
anomalyChart('lineC', yongalaSst, yongalaNppAnom, { axis: '#333', axisWidth: 1.2, zero: '#777', dash: [5, 4] });
anomalyChart('lineD', portHackingSst, portHackingNppAnom, { axis: '#808080', axisWidth: 2, zero: '#222', dash: [4, 3] });
</script>
</body>
</html>
